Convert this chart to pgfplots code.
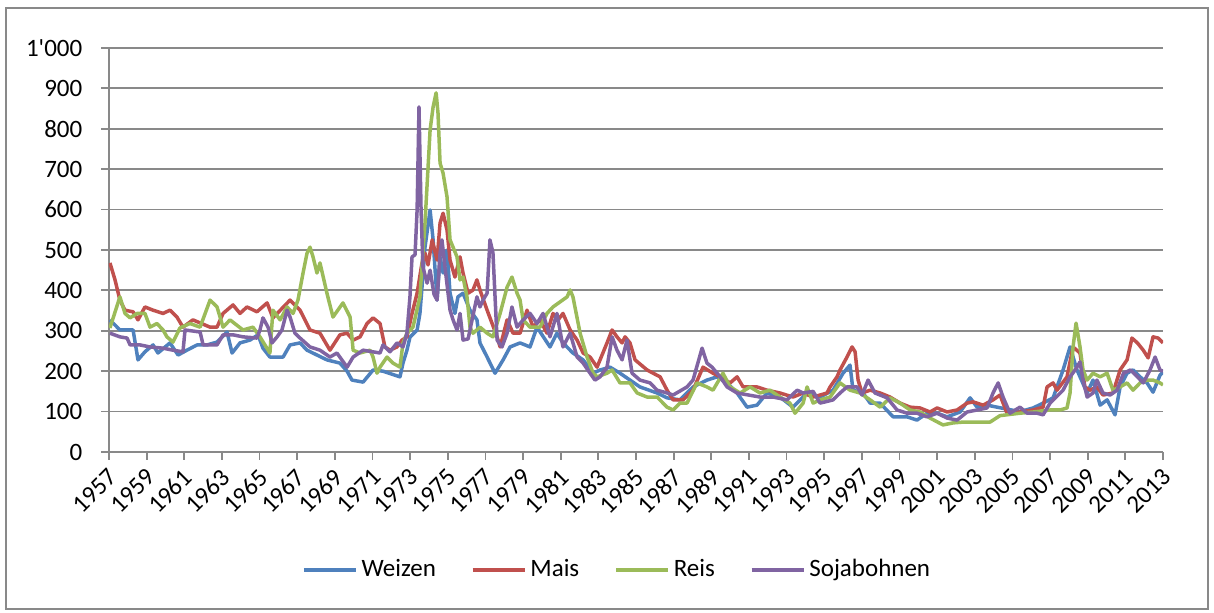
\documentclass[border=0pt]{standalone}
\usepackage{fontspec}
\setmainfont{Carlito}
\usepackage{pgfplots}
\pgfplotsset{compat=1.18}
\definecolor{cW}{HTML}{4F81BD}
\definecolor{cM}{HTML}{C0504D}
\definecolor{cR}{HTML}{9BBB59}
\definecolor{cS}{HTML}{8064A2}
\definecolor{gridc}{HTML}{898989}
\begin{document}
\fontsize{12.5pt}{15pt}\selectfont
\begin{tikzpicture}
\path (-54.5pt,-80.5pt) rectangle (552.5pt,226pt);
\draw[gridc, line width=0.8pt] (-51.5pt,-78.5pt) rectangle (549.5pt,222pt);
\begin{axis}[
 at={(0pt,0pt)}, anchor=south west,
 scale only axis, width=527pt, height=202pt,
 xmin=1957, xmax=2013, ymin=0, ymax=1000,
 axis lines*=left,
 axis line style={gridc, line width=0.9pt},
 xtick={1957,1959,...,2013},
 ytick={0,100,...,1000},
 yticklabels={0,100,200,300,400,500,600,700,800,900,1\textquotesingle 000},
 xticklabel style={rotate=45, anchor=east, yshift=-6pt, xshift=1pt, font=\fontsize{12.5pt}{15pt}\selectfont},
 yticklabel style={xshift=-5pt, font=\fontsize{12.5pt}{15pt}\selectfont},
 ymajorgrids, grid style={gridc, line width=0.9pt},
 tick style={gridc, line width=0.9pt},
 major tick length=4pt, tick align=outside,
 /pgf/number format/assume math mode=true,
 /pgf/number format/1000 sep={},
 every axis plot/.append style={line width=1.75pt, line join=round, no markers},
 legend style={at={(axis description cs:0.483,-0.292)}, anchor=center, draw=none, fill=none,
   font=\fontsize{12.5pt}{15pt}\selectfont,
   /tikz/every even column/.append style={column sep=15.5pt}},
 legend columns=4,
 legend image code/.code={\draw[#1] (0pt,0pt) -- (26pt,0pt);},
]
\addplot[cW] table {
1957.05 327
1957.58 302
1958.28 302
1958.54 228
1958.91 248
1959.34 265
1959.60 245
1960.24 270
1960.67 240
1961.14 252
1961.68 265
1962.21 265
1962.74 272
1963.27 297
1963.54 245
1963.96 270
1964.49 277
1964.92 290
1965.18 257
1965.55 235
1966.25 235
1966.62 265
1967.15 270
1967.52 252
1968.05 240
1968.58 228
1969.27 220
1969.65 200
1969.91 178
1970.50 173
1971.03 203
1971.56 200
1972.46 186
1972.62 220
1972.83 252
1972.99 284
1973.37 302
1973.52 343
1973.63 408
1973.79 507
1974.06 599
1974.22 525
1974.43 376
1974.59 483
1974.75 443
1974.96 500
1975.12 393
1975.38 343
1975.54 384
1975.81 393
1976.18 351
1976.55 327
1976.71 270
1977.09 235
1977.51 195
1977.94 228
1978.31 260
1978.84 270
1979.37 260
1979.74 309
1980.43 260
1980.80 294
1981.12 270
1981.65 245
1982.19 228
1982.72 195
1983.09 203
1983.62 210
1984.15 195
1985.21 161
1986.12 146
1986.65 134
1987.34 129
1988.03 161
1988.77 178
1989.31 186
1989.84 171
1990.37 146
1990.90 111
1991.43 116
1991.96 146
1992.65 136
1993.34 111
1994.09 146
1994.78 136
1995.47 153
1996.00 195
1996.37 215
1996.53 153
1997.06 146
1997.44 121
1997.97 121
1998.66 87
1999.40 87
1999.93 79
2000.46 96
2001.00 96
2001.53 87
2002.22 99
2002.75 134
2003.12 111
2003.65 116
2004.18 111
2004.71 106
2005.40 100
2006.10 109
2006.63 121
2007.16 134
2007.69 203
2008.06 260
2008.43 203
2008.97 146
2009.28 178
2009.66 116
2010.03 129
2010.45 92
2010.72 161
2011.09 195
2011.41 203
2011.78 186
2012.15 171
2012.47 148
2012.84 190
2013.00 198
};
\addlegendentry{Weizen}
\addplot[cM] table {
1957.05 468
1957.32 426
1957.58 376
1957.85 351
1958.28 347
1958.54 327
1958.91 359
1959.34 351
1959.87 343
1960.24 351
1960.61 334
1960.93 309
1961.46 327
1962.37 309
1962.74 309
1963.06 343
1963.59 364
1963.96 343
1964.33 359
1964.86 347
1965.40 369
1965.71 332
1966.62 376
1967.15 351
1967.68 302
1968.21 294
1968.74 252
1969.27 290
1969.65 294
1969.97 277
1970.34 285
1970.71 318
1971.03 332
1971.40 318
1971.66 260
1971.93 252
1972.30 260
1972.57 277
1972.83 285
1973.10 343
1973.37 393
1973.63 468
1973.79 492
1973.95 463
1974.17 525
1974.43 475
1974.59 567
1974.75 591
1974.96 549
1975.12 475
1975.38 433
1975.65 483
1975.81 443
1976.08 393
1976.34 401
1976.55 426
1976.71 401
1977.09 351
1977.62 285
1977.78 260
1978.15 327
1978.47 294
1978.84 294
1979.21 351
1979.53 309
1979.90 327
1980.27 294
1980.59 343
1980.86 327
1981.12 343
1981.50 302
1981.87 277
1982.19 245
1982.56 235
1982.93 210
1983.09 228
1983.46 270
1983.73 302
1983.99 285
1984.26 270
1984.42 285
1984.68 270
1984.95 228
1985.59 203
1985.91 195
1986.28 186
1986.65 153
1986.97 129
1987.50 129
1988.03 153
1988.56 210
1989.09 195
1989.47 186
1990.00 171
1990.37 186
1990.69 161
1991.43 161
1991.96 153
1992.65 146
1993.34 136
1993.88 146
1994.41 136
1995.15 146
1995.31 161
1995.68 186
1995.84 203
1996.21 235
1996.48 260
1996.64 248
1996.80 178
1997.01 146
1997.44 153
1997.97 146
1998.50 136
1999.03 121
1999.56 111
2000.09 109
2000.62 99
2001.00 109
2001.53 99
2002.06 104
2002.59 121
2002.91 124
2003.44 116
2003.97 129
2004.34 141
2004.71 96
2005.40 99
2006.10 104
2006.63 111
2006.84 161
2007.16 171
2007.37 153
2007.90 186
2008.22 260
2008.59 245
2008.85 161
2009.12 153
2009.49 161
2009.81 141
2010.34 146
2010.72 203
2011.09 228
2011.35 282
2011.64 270
2011.95 252
2012.21 233
2012.47 285
2012.74 282
2013.00 270
};
\addlegendentry{Mais}
\addplot[cR] table {
1957.05 307
1957.58 384
1957.85 343
1958.12 332
1958.49 343
1958.91 343
1959.18 309
1959.55 318
1959.87 302
1960.08 285
1960.40 272
1960.77 307
1961.30 318
1961.84 309
1962.37 376
1962.74 359
1963.06 309
1963.43 327
1964.12 302
1964.65 309
1965.02 285
1965.55 245
1965.71 351
1966.09 327
1966.46 359
1966.78 343
1967.04 376
1967.31 443
1967.52 492
1967.68 507
1967.84 483
1968.05 443
1968.21 468
1968.58 393
1968.90 334
1969.43 369
1969.81 334
1969.97 252
1970.34 245
1970.87 252
1971.03 235
1971.24 195
1971.40 210
1971.77 235
1972.09 220
1972.46 210
1972.62 270
1972.83 294
1973.15 309
1973.52 384
1973.79 567
1974.06 797
1974.22 854
1974.38 889
1974.48 839
1974.59 715
1974.75 690
1974.96 631
1975.12 525
1975.28 507
1975.49 483
1975.65 426
1975.81 433
1976.02 384
1976.18 309
1976.34 294
1976.71 309
1977.09 294
1977.40 285
1977.78 343
1978.15 408
1978.41 433
1978.68 393
1978.84 376
1979.00 327
1979.37 309
1979.90 309
1980.27 343
1980.59 359
1981.34 384
1981.50 401
1981.65 384
1982.03 294
1982.40 235
1982.72 195
1982.93 186
1983.46 195
1983.73 203
1984.15 171
1984.68 171
1985.06 146
1985.59 136
1986.12 136
1986.65 111
1986.97 104
1987.34 121
1987.71 121
1988.24 171
1988.77 161
1989.09 153
1989.62 195
1990.00 161
1990.53 146
1991.06 161
1991.59 146
1992.12 153
1992.65 136
1993.18 121
1993.45 96
1993.88 121
1994.09 161
1994.41 121
1994.78 129
1995.31 136
1995.84 171
1996.37 153
1996.90 146
1997.44 129
1997.97 111
1998.50 134
1999.03 121
1999.56 104
2000.09 99
2000.62 84
2001.31 67
2001.85 72
2002.38 74
2003.12 74
2003.81 74
2004.34 90
2005.40 96
2006.10 99
2007.00 104
2007.53 104
2007.90 109
2008.06 146
2008.22 260
2008.38 319
2008.59 260
2008.75 203
2008.97 178
2009.28 195
2009.66 186
2010.03 195
2010.34 153
2010.72 161
2011.09 171
2011.41 153
2011.78 171
2012.15 178
2012.47 178
2012.84 171
2013.00 166
};
\addlegendentry{Reis}
\addplot[cS] table {
1957.05 294
1957.58 285
1957.96 282
1958.12 265
1958.65 265
1959.18 260
1959.87 257
1960.40 252
1960.93 248
1961.04 302
1961.84 297
1962.00 265
1962.74 265
1963.06 290
1963.59 290
1964.12 285
1964.86 282
1965.02 302
1965.18 332
1965.45 309
1965.66 270
1965.93 285
1966.19 302
1966.46 351
1966.62 334
1966.88 294
1967.15 282
1967.68 260
1968.21 252
1968.74 235
1969.11 245
1969.65 210
1969.97 235
1970.50 252
1971.40 245
1971.56 265
1971.93 248
1972.30 270
1972.62 260
1972.83 294
1972.99 384
1973.10 483
1973.26 488
1973.37 599
1973.47 854
1973.58 599
1973.68 458
1973.90 418
1974.06 450
1974.27 390
1974.43 376
1974.59 493
1974.69 525
1974.85 458
1975.12 351
1975.28 327
1975.49 302
1975.65 343
1975.81 277
1976.08 280
1976.29 327
1976.55 384
1976.71 359
1976.87 376
1977.09 393
1977.24 525
1977.40 493
1977.62 277
1977.88 260
1978.15 294
1978.41 359
1978.68 309
1979.00 327
1979.37 343
1979.74 318
1980.06 343
1980.43 285
1980.80 343
1981.12 260
1981.50 294
1981.87 235
1982.19 220
1982.56 195
1982.82 178
1983.09 186
1983.46 210
1983.73 285
1983.99 252
1984.26 228
1984.52 277
1984.79 195
1985.21 178
1985.75 171
1986.12 153
1986.65 146
1986.97 141
1987.71 161
1988.03 178
1988.51 257
1988.77 220
1989.04 210
1989.47 186
1989.84 161
1990.37 146
1991.59 136
1992.28 136
1993.02 129
1993.56 153
1993.88 146
1994.41 150
1994.78 121
1995.47 129
1995.84 146
1996.21 161
1996.75 161
1997.01 141
1997.33 178
1997.70 146
1998.34 134
1998.87 104
1999.40 96
1999.93 96
2000.46 87
2001.00 96
2001.53 84
2002.06 79
2002.59 99
2003.12 104
2003.65 109
2003.97 146
2004.24 171
2004.50 136
2004.87 96
2005.40 111
2005.78 96
2006.31 96
2006.63 92
2007.00 121
2007.69 153
2008.06 186
2008.33 203
2008.59 223
2008.75 178
2008.97 136
2009.28 146
2009.49 178
2009.81 146
2010.19 141
2010.56 153
2010.90 195
2011.27 203
2011.64 186
2011.95 171
2012.31 203
2012.58 235
2012.84 203
2013.00 200
};
\addlegendentry{Sojabohnen}
\end{axis}
\end{tikzpicture}
\end{document}
